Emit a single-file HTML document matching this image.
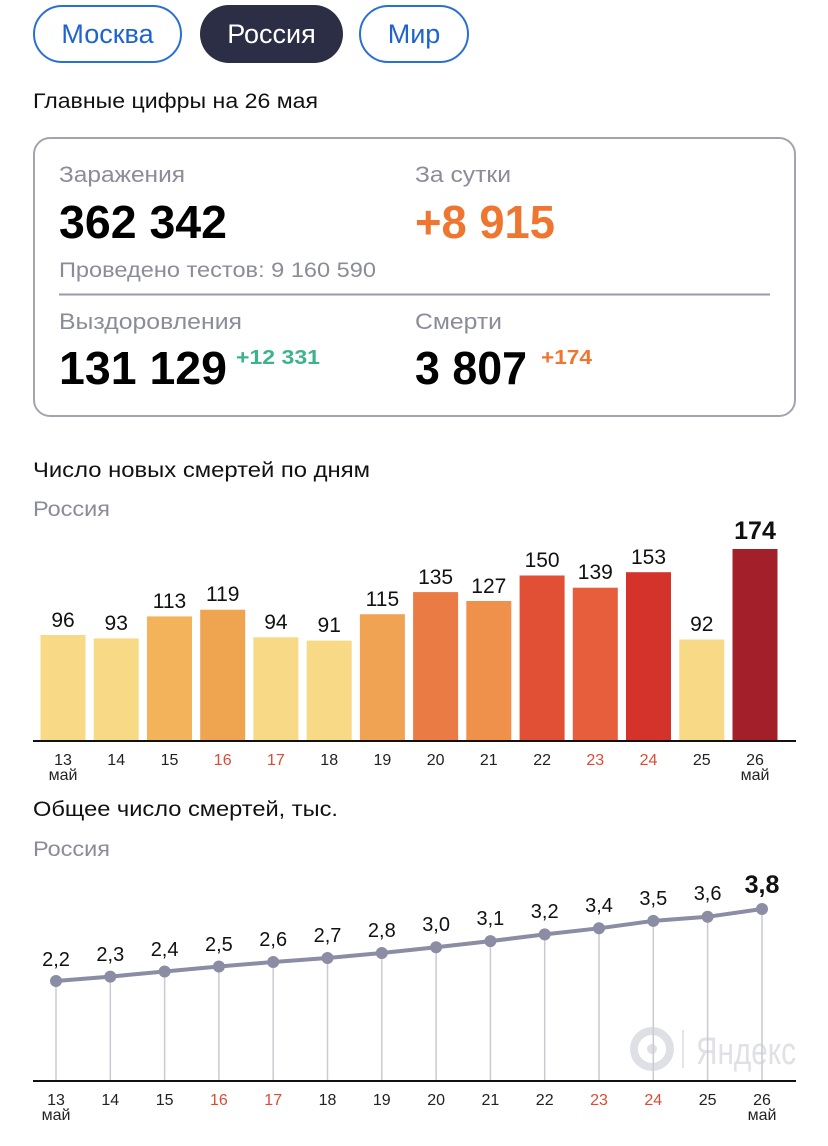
<!DOCTYPE html>
<html><head><meta charset="utf-8"><style>
html,body{margin:0;padding:0;background:#fff;}
svg{display:block;font-family:"Liberation Sans",sans-serif;}
</style></head><body>
<svg width="828" height="1146" viewBox="0 0 828 1146" xmlns="http://www.w3.org/2000/svg">
<!-- pills -->
<rect x="34" y="6" width="147" height="56" rx="28" fill="#fff" stroke="#2a6fd4" stroke-width="2"/>
<text x="107.5" y="43" font-size="27" fill="#1f63cf" text-anchor="middle">Москва</text>
<rect x="200" y="5" width="143" height="58" rx="29" fill="#2c2e45"/>
<text x="271.5" y="43" font-size="27" fill="#fff" text-anchor="middle">Россия</text>
<rect x="360" y="6" width="108" height="56" rx="28" fill="#fff" stroke="#2a6fd4" stroke-width="2"/>
<text x="414" y="43" font-size="27" fill="#1f63cf" text-anchor="middle">Мир</text>

<text x="33" y="108" font-size="21" fill="#111" textLength="285" lengthAdjust="spacingAndGlyphs">Главные цифры на 26 мая</text>

<!-- card -->
<rect x="34" y="138" width="761" height="278" rx="16" fill="#fff" stroke="#a3a4b0" stroke-width="2"/>
<text x="59" y="182" font-size="22" fill="#8b8c9a" textLength="126" lengthAdjust="spacingAndGlyphs">Заражения</text>
<text x="415" y="182" font-size="22" fill="#8b8c9a" textLength="96" lengthAdjust="spacingAndGlyphs">За сутки</text>
<text x="59" y="238" font-size="46" font-weight="bold" fill="#000" textLength="168" lengthAdjust="spacingAndGlyphs">362 342</text>
<text x="415" y="238" font-size="46" font-weight="bold" fill="#ef7631" textLength="140" lengthAdjust="spacingAndGlyphs">+8 915</text>
<text x="59" y="277" font-size="21" fill="#8b8c9a" textLength="317" lengthAdjust="spacingAndGlyphs">Проведено тестов: 9 160 590</text>
<line x1="59" y1="294.5" x2="770" y2="294.5" stroke="#9a9ba8" stroke-width="2"/>
<text x="59" y="329" font-size="22" fill="#8b8c9a" textLength="183" lengthAdjust="spacingAndGlyphs">Выздоровления</text>
<text x="415" y="329" font-size="22" fill="#8b8c9a" textLength="87" lengthAdjust="spacingAndGlyphs">Смерти</text>
<text x="59" y="384" font-size="46" font-weight="bold" fill="#000" textLength="168" lengthAdjust="spacingAndGlyphs">131 129</text>
<text x="236" y="364" font-size="20" font-weight="bold" fill="#3cb48a" textLength="84" lengthAdjust="spacingAndGlyphs">+12 331</text>
<text x="415" y="384" font-size="46" font-weight="bold" fill="#000" textLength="112" lengthAdjust="spacingAndGlyphs">3 807</text>
<text x="541" y="364" font-size="20" font-weight="bold" fill="#ef7631" textLength="51" lengthAdjust="spacingAndGlyphs">+174</text>

<!-- bar chart -->
<text x="33" y="477" font-size="21" fill="#111" textLength="337" lengthAdjust="spacingAndGlyphs">Число новых смертей по дням</text>
<text x="33" y="516" font-size="21" fill="#8b8c9a" textLength="77" lengthAdjust="spacingAndGlyphs">Россия</text>
<g font-size="21" fill="#111" text-anchor="middle">
<rect x="40.5" y="635" width="45" height="106" fill="#f8d985"/><text x="63" y="627">96</text>
<rect x="93.7" y="638.4" width="45" height="102.6" fill="#f8d985"/><text x="116.2" y="630">93</text>
<rect x="147" y="616.4" width="45" height="124.6" fill="#f2b35a"/><text x="169.5" y="608">113</text>
<rect x="200.2" y="609.7" width="45" height="131.3" fill="#efa450"/><text x="222.7" y="601">119</text>
<rect x="253.4" y="637.3" width="45" height="103.7" fill="#f8d985"/><text x="275.9" y="629">94</text>
<rect x="306.7" y="640.6" width="45" height="100.4" fill="#f8d985"/><text x="329.2" y="632">91</text>
<rect x="359.9" y="614.2" width="45" height="126.8" fill="#f0a453"/><text x="382.4" y="606">115</text>
<rect x="413.1" y="592.1" width="45" height="148.9" fill="#eb7b44"/><text x="435.6" y="584">135</text>
<rect x="466.3" y="601" width="45" height="140" fill="#ef914b"/><text x="488.8" y="593">127</text>
<rect x="519.6" y="575.5" width="45" height="165.5" fill="#e14f35"/><text x="542.1" y="567">150</text>
<rect x="572.8" y="587.7" width="45" height="153.3" fill="#e65e3b"/><text x="595.3" y="579">139</text>
<rect x="626" y="572.2" width="45" height="168.8" fill="#d4332b"/><text x="648.5" y="564">153</text>
<rect x="679.3" y="639.5" width="45" height="101.5" fill="#f8d985"/><text x="701.8" y="631">92</text>
<rect x="732.5" y="549" width="45" height="192" fill="#a3202b"/><text x="755" y="539" font-size="25" font-weight="bold">174</text>
</g>
<line x1="33" y1="741" x2="796" y2="741" stroke="#111" stroke-width="2"/>
<g font-size="16" fill="#222" text-anchor="middle">
<text x="63" y="765">13</text><text x="63" y="780">май</text>
<text x="116.2" y="765">14</text><text x="169.5" y="765">15</text>
<text x="222.7" y="765" fill="#dd4a35">16</text><text x="275.9" y="765" fill="#dd4a35">17</text>
<text x="329.2" y="765">18</text><text x="382.4" y="765">19</text><text x="435.6" y="765">20</text>
<text x="488.8" y="765">21</text><text x="542.1" y="765">22</text>
<text x="595.3" y="765" fill="#dd4a35">23</text><text x="648.5" y="765" fill="#dd4a35">24</text>
<text x="701.8" y="765">25</text><text x="755" y="765">26</text><text x="755" y="780">май</text>
</g>

<!-- line chart -->
<text x="33" y="816" font-size="21" fill="#111" textLength="305" lengthAdjust="spacingAndGlyphs">Общее число смертей, тыс.</text>
<text x="33" y="856" font-size="21" fill="#8b8c9a" textLength="77" lengthAdjust="spacingAndGlyphs">Россия</text>
<!-- watermark -->
<circle cx="652" cy="1049" r="18" fill="none" stroke="#dfe0e6" stroke-width="8"/>
<circle cx="652" cy="1049" r="5" fill="#dfe0e6"/>
<line x1="683" y1="1030" x2="683" y2="1068" stroke="#e3e4ea" stroke-width="2"/>
<text x="696" y="1064" font-size="38" fill="#e0e1e7" textLength="100" lengthAdjust="spacingAndGlyphs">Яндекс</text>
<g stroke="#c9cad3" stroke-width="1.5">
<line x1="56" y1="981" x2="56" y2="1081"/><line x1="110.3" y1="976.6" x2="110.3" y2="1081"/>
<line x1="164.6" y1="971.5" x2="164.6" y2="1081"/><line x1="218.9" y1="966.5" x2="218.9" y2="1081"/>
<line x1="273.2" y1="962" x2="273.2" y2="1081"/><line x1="327.5" y1="958" x2="327.5" y2="1081"/>
<line x1="381.8" y1="953" x2="381.8" y2="1081"/><line x1="436.1" y1="947.2" x2="436.1" y2="1081"/>
<line x1="490.4" y1="941.1" x2="490.4" y2="1081"/><line x1="544.7" y1="934.4" x2="544.7" y2="1081"/>
<line x1="599" y1="928.3" x2="599" y2="1081"/><line x1="653.3" y1="920.9" x2="653.3" y2="1081"/>
<line x1="707.6" y1="916.8" x2="707.6" y2="1081"/><line x1="762" y1="909" x2="762" y2="1081"/>
</g>
<polyline fill="none" stroke="#8a8da3" stroke-width="4" points="56,981 110.3,976.6 164.6,971.5 218.9,966.5 273.2,962 327.5,958 381.8,953 436.1,947.2 490.4,941.1 544.7,934.4 599,928.3 653.3,920.9 707.6,916.8 762,909"/>
<g fill="#8a8da3">
<circle cx="56" cy="981" r="6"/><circle cx="110.3" cy="976.6" r="6"/><circle cx="164.6" cy="971.5" r="6"/>
<circle cx="218.9" cy="966.5" r="6"/><circle cx="273.2" cy="962" r="6"/><circle cx="327.5" cy="958" r="6"/>
<circle cx="381.8" cy="953" r="6"/><circle cx="436.1" cy="947.2" r="6"/><circle cx="490.4" cy="941.1" r="6"/>
<circle cx="544.7" cy="934.4" r="6"/><circle cx="599" cy="928.3" r="6"/><circle cx="653.3" cy="920.9" r="6"/>
<circle cx="707.6" cy="916.8" r="6"/><circle cx="762" cy="909" r="6"/>
</g>
<g font-size="20" fill="#111" text-anchor="middle">
<text x="56" y="966">2,2</text><text x="110.3" y="961">2,3</text><text x="164.6" y="956">2,4</text>
<text x="218.9" y="951">2,5</text><text x="273.2" y="946">2,6</text><text x="327.5" y="942">2,7</text>
<text x="381.8" y="937">2,8</text><text x="436.1" y="931">3,0</text><text x="490.4" y="925">3,1</text>
<text x="544.7" y="918">3,2</text><text x="599" y="912">3,4</text><text x="653.3" y="905">3,5</text>
<text x="707.6" y="900">3,6</text><text x="762" y="893" font-size="25" font-weight="bold">3,8</text>
</g>
<line x1="33" y1="1081" x2="796" y2="1081" stroke="#111" stroke-width="2"/>
<g font-size="16" fill="#222" text-anchor="middle">
<text x="56" y="1105">13</text><text x="56" y="1120">май</text>
<text x="110.3" y="1105">14</text><text x="164.6" y="1105">15</text>
<text x="218.9" y="1105" fill="#dd4a35">16</text><text x="273.2" y="1105" fill="#dd4a35">17</text>
<text x="327.5" y="1105">18</text><text x="381.8" y="1105">19</text><text x="436.1" y="1105">20</text>
<text x="490.4" y="1105">21</text><text x="544.7" y="1105">22</text>
<text x="599" y="1105" fill="#dd4a35">23</text><text x="653.3" y="1105" fill="#dd4a35">24</text>
<text x="707.6" y="1105">25</text><text x="762" y="1105">26</text><text x="762" y="1120">май</text>
</g>
</svg>
</body></html>
